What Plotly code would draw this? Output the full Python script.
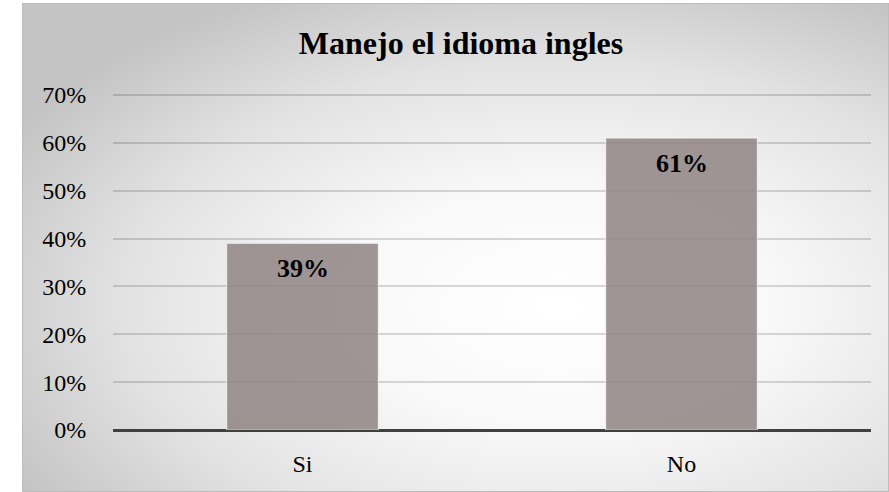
"""Manejo el idioma ingles — bar chart recreation."""
import base64
import plotly.graph_objects as go

categories = ["Si", "No"]
values = [0.39, 0.61]
y_ticks = [0, 0.1, 0.2, 0.3, 0.4, 0.5, 0.6, 0.7]
y_labels = ["0%", "10%", "20%", "30%", "40%", "50%", "60%", "70%"]

FONT = "Liberation Serif, Times New Roman, serif"

# ── Background: radial grey gradient (as an SVG layout image) ────────────────
_svg = """<svg xmlns="http://www.w3.org/2000/svg" width="867" height="489"
 viewBox="0 0 867 489" preserveAspectRatio="none">
<defs><radialGradient id="g" cx="0.62" cy="0.62" r="0.72">
<stop offset="0" stop-color="#ffffff"/>
<stop offset="0.35" stop-color="#f8f8f8"/>
<stop offset="0.7" stop-color="#e2e2e2"/>
<stop offset="1" stop-color="#c4c4c4"/>
</radialGradient></defs>
<rect x="0.5" y="0.5" width="866" height="488" fill="url(#g)"
 stroke="#bdbdbd" stroke-width="1"/>
</svg>"""
_bg = "data:image/svg+xml;base64," + base64.b64encode(_svg.encode()).decode()

W, H = 889, 492
L, R, T, B = 113, 18, 93, 62
pw, ph = W - L - R, H - T - B
Y_TOP = 0.7042  # a hair above 70% so the top gridline is kept

fig = go.Figure(go.Bar(
    x=categories, y=values,
    marker=dict(color="rgba(146,134,134,0.88)",
                line=dict(color="rgba(255,255,255,0.7)", width=1)),
    hoverinfo="skip",
))

for c, v in zip(categories, values):
    fig.add_annotation(
        x=c, y=v, text=f"<b>{v:.0%}</b>", showarrow=False,
        yanchor="top", yshift=-9,
        font=dict(family=FONT, size=26, color="#000000"),
    )

fig.add_layout_image(
    source=_bg, xref="paper", yref="paper",
    x=(22 - L) / pw, y=1 + (T - 3) / ph,
    sizex=(W - 22) / pw, sizey=(H - 3) / ph,
    xanchor="left", yanchor="top", sizing="stretch", layer="below",
)

fig.update_layout(
    width=W, height=H,
    margin=dict(l=L, r=R, t=T, b=B, pad=0),
    paper_bgcolor="#ffffff",
    plot_bgcolor="rgba(0,0,0,0)",
    bargap=0.6,
    showlegend=False,
    title=dict(text="<b>Manejo el idioma ingles</b>",
               x=(461 - L) / pw, xref="paper", xanchor="center",
               y=1 - 43 / H, yref="container", yanchor="middle",
               font=dict(family=FONT, size=32, color="#000000")),
    xaxis=dict(
        showgrid=False, showline=False, zeroline=False,
        ticks="outside", ticklen=12, tickcolor="rgba(0,0,0,0)",
        tickfont=dict(family=FONT, size=24, color="#000000"),
    ),
    yaxis=dict(
        range=[0, Y_TOP], tickvals=y_ticks, ticktext=y_labels,
        showgrid=True, gridcolor="rgba(0,0,0,0.15)", gridwidth=1.5,
        zeroline=True, zerolinecolor="#404040", zerolinewidth=3,
        showline=False,
        ticks="outside", ticklen=21, tickcolor="rgba(0,0,0,0)",
        tickfont=dict(family=FONT, size=24, color="#000000"),
    ),
)

fig.write_html("out.html", config={"displayModeBar": False},
               post_script="document.body.style.margin='0';")
